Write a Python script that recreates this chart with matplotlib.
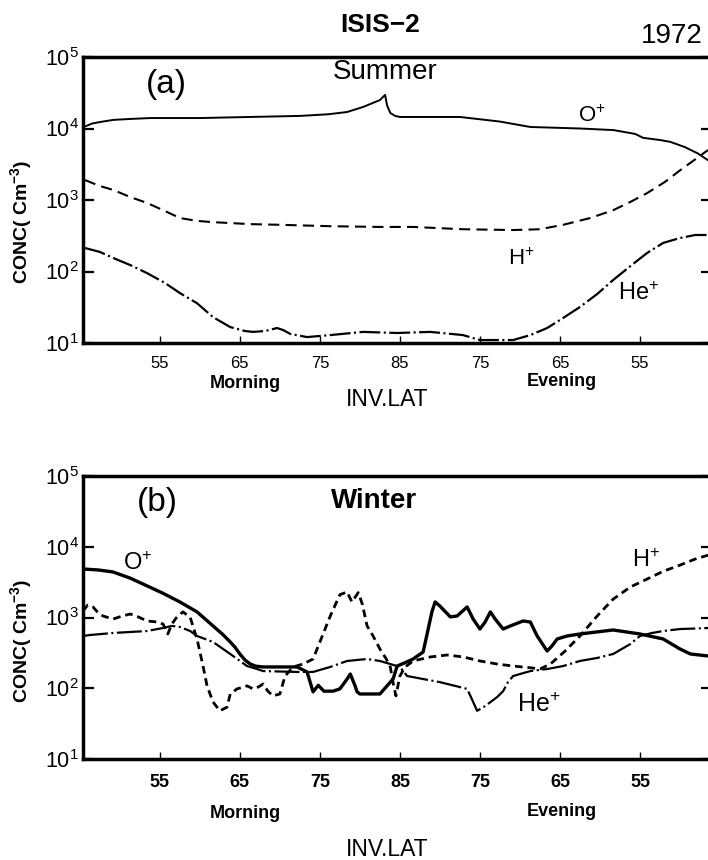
import numpy as np
import matplotlib
matplotlib.use("Agg")
import matplotlib.pyplot as plt

plt.rcParams["font.family"] = ["Liberation Sans", "DejaVu Sans"]
plt.rcParams["mathtext.fontset"] = "custom"
plt.rcParams["mathtext.rm"] = "Liberation Sans"
plt.rcParams["mathtext.it"] = "Liberation Sans:italic"
plt.rcParams["mathtext.bf"] = "Liberation Sans:bold"
plt.rcParams["lines.scale_dashes"] = False

# Position along the satellite pass, in degrees: the morning leg climbs to the
# 85 deg turn-around point, the evening leg runs back down (lat = 170 - track).
tick_track = [55, 65, 75, 85, 95, 105, 115]
tick_labels = ["55", "65", "75", "85", "75", "65", "55"]
decades = [1e1, 1e2, 1e3, 1e4, 1e5]
decade_labels = ["10$^{1}$", "10$^{2}$", "10$^{3}$", "10$^{4}$", "10$^{5}$"]

# ---- (a) Summer -----------------------------------------------------------
sum_o_track = [45.5, 46.5, 47.5, 49.2, 51.3, 53.8, 60.0, 66.3, 72.5, 76.0, 78.4,
               80.4, 82.5, 83.15, 83.4, 83.8, 84.4, 85.0, 86.3, 92.5, 97.5,
               101.3, 107.5, 111.7, 114.4, 115.4, 117.5, 118.8, 120.6, 122.2,
               123.5]
sum_o_conc = [1.05e4, 1.17e4, 1.23e4, 1.32e4, 1.36e4, 1.40e4, 1.40e4, 1.45e4,
              1.50e4, 1.58e4, 1.70e4, 2.0e4, 2.5e4, 2.95e4, 2.1e4, 1.65e4,
              1.5e4, 1.45e4, 1.45e4, 1.45e4, 1.25e4, 1.05e4, 1.0e4, 9.5e3,
              8.4e3, 7.4e3, 6.9e3, 6.5e3, 5.5e3, 4.5e3, 3.6e3]

sum_h_track = [45.65, 47.5, 49.2, 51.3, 53.4, 55.65, 57.5, 59.65, 61.65, 66.3,
               70.0, 76.3, 82.5, 86.65, 92.9, 99.15, 102.5, 105.4, 108.8,
               111.65, 113.8, 115.9, 118.15, 120.0, 121.9, 123.5]
sum_h_conc = [1.9e3, 1.57e3, 1.38e3, 1.1e3, 910, 700, 560, 510, 490, 460, 450,
              430, 420, 420, 390, 380, 390, 450, 560, 720, 940, 1.25e3, 1.8e3,
              2.6e3, 3.7e3, 5.0e3]

sum_he_track = [45.65, 47.5, 49.15, 51.3, 53.4, 55.65, 57.5, 59.65, 61.65, 63.8,
                65.65, 66.65, 68.15, 69.65, 70.4, 71.3, 73.4, 76.3, 80.4, 84.65,
                88.8, 92.9, 95.0, 99.15, 101.3, 103.4, 105.4, 107.5, 109.65,
                111.65, 113.8, 115.9, 117.9, 120.0, 121.9, 123.5]
sum_he_conc = [213, 188, 155, 123, 95, 69, 50, 36, 23, 16.7, 14.7, 14.3, 14.7,
               16.2, 15.2, 13.4, 12.1, 12.9, 14.3, 13.8, 14.3, 12.9, 11.0, 11.0,
               12.9, 16.2, 22.4, 31.9, 48.4, 76, 119, 182, 251, 294, 324, 324]

# ---- (b) Winter -----------------------------------------------------------
win_o_track = [45.4, 47.3, 49.15, 51.3, 53.4, 55.4, 57.5, 59.65, 61.65, 62.8,
               63.8, 64.4, 65.0, 65.65, 66.3, 67.0, 67.9, 72.15, 73.4, 74.15,
               74.8, 75.5, 76.65, 77.5, 78.4, 78.8, 79.4, 79.65, 80.0, 82.5,
               84.15, 84.65, 85.65, 86.65, 87.9, 88.4, 89.0, 89.4, 90.0, 91.3,
               92.15, 93.4, 94.15, 95.0, 95.65, 96.3, 96.9, 97.9, 98.8, 100.4,
               101.3, 102.15, 103.4, 104.0, 104.65, 105.9, 107.5, 111.65, 115.0,
               117.9, 120.0, 121.3, 123.5]
win_o_conc = [4.85e3, 4.7e3, 4.4e3, 3.6e3, 2.8e3, 2.2e3, 1.66e3, 1.2e3, 760,
              585, 451, 380, 305, 250, 220, 205, 200, 200, 170, 89, 110, 91, 91,
              98, 135, 159, 108, 89, 83, 83, 135, 206, 230, 259, 325, 585, 1.2e3,
              1.66e3, 1.45e3, 1.02e3, 1.05e3, 1.41e3, 953, 687, 864, 1.2e3, 953,
              687, 760, 893, 864, 548, 336, 396, 497, 548, 585, 666, 585, 497,
              359, 305, 286]

win_h_track = [45.4, 46.0, 46.65, 47.3, 47.9, 49.15, 50.3, 51.3, 52.3, 53.4,
               54.65, 55.4, 56.0, 56.5, 57.15, 57.9, 58.8, 59.65, 60.4, 60.9,
               61.65, 62.5, 63.4, 63.8, 64.65, 65.9, 66.65, 67.3, 67.9, 68.5,
               69.15, 70.0, 70.65, 71.65, 72.9, 74.15, 75.3, 76.3, 77.5, 78.4,
               79.0, 79.8, 80.3, 80.9, 81.65, 82.5, 83.3, 83.8, 84.15, 84.5, 85.0,
               85.65, 86.65, 88.8, 90.9, 92.9, 95.0, 97.15, 99.15, 101.3, 102.5,
               103.8, 105.65, 107.5, 109.65, 111.65, 113.8, 115.9, 117.9, 120.0,
               121.9, 123.5]
win_h_conc = [1.24e3, 1.5e3, 1.41e3, 1.16e3, 1.05e3, 950, 1.05e3, 1.12e3, 1.02e3,
              893, 864, 809, 585, 809, 1.02e3, 1.2e3, 1.0e3, 497, 206, 108, 64,
              48, 54, 83, 98, 108, 98, 104, 115, 91, 78, 83, 149, 200, 220, 259,
              548, 1.05e3, 2.1e3, 2.3e3, 1.66e3, 2.25e3, 1.55e3, 760, 548, 359,
              259, 200, 120, 78, 149, 200, 243, 277, 295, 277, 243, 220, 206, 195,
              187, 220, 336, 548, 1.05e3, 1.82e3, 2.7e3, 3.5e3, 4.5e3, 5.5e3,
              6.7e3, 7.6e3]

win_he_track = [45.4, 46.3, 49.15, 51.3, 53.4, 55.4, 56.5, 57.5, 58.8, 59.65,
                61.65, 63.8, 65.9, 67.15, 67.9, 72.15, 74.15, 76.3, 78.4, 80.9,
                82.5, 83.8, 85.0, 85.9, 87.9, 90.0, 91.9, 93.4, 94.0, 94.65,
                95.65, 97.15, 97.9, 98.5, 99.15, 101.3, 103.4, 105.4, 107.5,
                109.65, 111.65, 113.8, 115.0, 116.5, 117.9, 120.0, 122.15, 123.5]
win_he_conc = [548, 566, 604, 624, 644, 711, 760, 735, 644, 548, 451, 305, 206,
               187, 175, 170, 170, 200, 243, 259, 243, 220, 200, 149, 135, 122,
               108, 98, 70, 48, 56, 75, 91, 122, 149, 175, 187, 206, 243, 268,
               305, 422, 548, 604, 644, 687, 700, 711]

W, H = 708, 860
fig = plt.figure(figsize=(W / 100, H / 100), dpi=100)


def fx(x):
    return x / W


def fy(y):
    return 1 - y / H


def make_axes(top, bottom, bold_ticks):
    ax = fig.add_axes([fx(83), fy(bottom), (712 - 83) / W, (bottom - top) / H])
    ax.set_yscale("log")
    ax.set_ylim(1e1, 1e5)
    ax.set_xlim(45.4, 124.0)
    ax.set_yticks(decades)
    ax.set_yticklabels(decade_labels, fontsize=15.5)
    ax.yaxis.set_minor_locator(matplotlib.ticker.NullLocator())
    ax.set_xticks(tick_track)
    ax.set_xticklabels(tick_labels, fontsize=13 if bold_ticks else 12,
                       fontweight="bold" if bold_ticks else "normal")
    ax.tick_params(axis="y", direction="in", length=8, width=1.6, pad=3,
                   left=True, right=True)
    ax.tick_params(axis="x", direction="in", length=5, width=1.0,
                   pad=11 if bold_ticks else 9)
    for side in ("left", "bottom", "top"):
        ax.spines[side].set_linewidth(2.5)
    ax.spines["right"].set_visible(False)
    ax.patch.set_alpha(0)
    return ax


ax1 = make_axes(57, 343, bold_ticks=False)
ax2 = make_axes(476, 759, bold_ticks=True)

# Summer curves
ax1.plot(sum_o_track, sum_o_conc, color="black", lw=1.4, solid_joinstyle="round")
ax1.plot(sum_h_track, sum_h_conc, color="black", lw=1.5, dashes=(8, 4.5))
ax1.plot(sum_he_track, sum_he_conc, color="black", lw=1.6,
         dashes=(15, 2.5, 1.5, 2.5))

# Winter curves
ax2.plot(win_o_track, win_o_conc, color="black", lw=2.4, solid_joinstyle="round")
ax2.plot(win_h_track, win_h_conc, color="black", lw=2.0, dashes=(5.5, 3.5),
         dash_joinstyle="round")
ax2.plot(win_he_track, win_he_conc, color="black", lw=1.6,
         dashes=(18, 2.5, 1.5, 2.5), dash_joinstyle="round")

# Titles and panel annotations
fig.text(fx(380), fy(25), "ISIS\u22122", fontsize=19, ha="center", va="center",
         fontweight="bold")
fig.text(fx(672), fy(36), "1972", fontsize=20, ha="center", va="center")
fig.text(fx(385), fy(72), "Summer", fontsize=20, ha="center", va="center")
fig.text(fx(166), fy(84), "(a)", fontsize=24, ha="center", va="center")
fig.text(fx(157), fy(503), "(b)", fontsize=24, ha="center", va="center")
fig.text(fx(374), fy(501), "Winter", fontsize=20, ha="center", va="center",
         fontweight="bold")

# Species labels, summer
fig.text(fx(578), fy(122), "O$^{+}$", fontsize=16, ha="left", va="baseline")
fig.text(fx(508), fy(265), "H$^{+}$", fontsize=16, ha="left", va="baseline")
fig.text(fx(618), fy(300), "He$^{+}$", fontsize=17, ha="left", va="baseline")

# Species labels, winter
fig.text(fx(123), fy(570), "O$^{+}$", fontsize=17, ha="left", va="baseline")
fig.text(fx(632), fy(567), "H$^{+}$", fontsize=17, ha="left", va="baseline")
fig.text(fx(517), fy(712), "He$^{+}$", fontsize=18, ha="left", va="baseline")

# Axis captions
for yc in (222, 641):
    fig.text(fx(21), fy(yc), "CONC( Cm$^{\\mathbf{-3}}$)", fontsize=14,
             fontweight="bold", rotation=90, ha="center", va="center")
for ym, ye, yl in ((383, 382, 400), (813, 812, 849)):
    fig.text(fx(245), fy(ym), "Morning", fontsize=13, fontweight="bold",
             ha="center", va="center")
    fig.text(fx(562), fy(ye), "Evening", fontsize=13, fontweight="bold",
             ha="center", va="center")
    fig.text(fx(387), fy(yl), "INV.LAT", fontsize=16.5, ha="center",
             va="center")

fig.savefig("out.png", dpi=100)
